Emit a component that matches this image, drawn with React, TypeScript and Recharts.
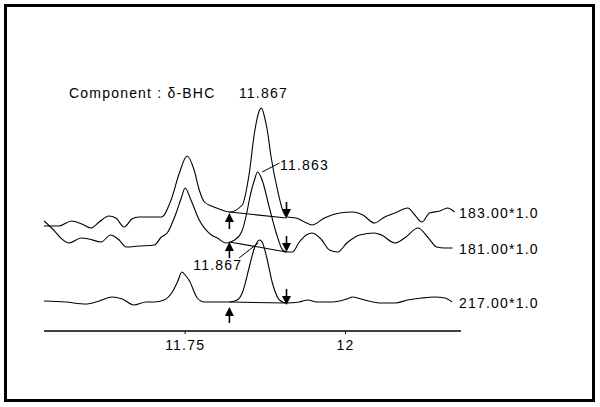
import { LineChart, Line, XAxis, YAxis, ReferenceLine, ReferenceDot } from "recharts";

// retention time (min) / abundance pairs
const trace183: [number, number][] = [
  [11.53, 105], [11.553, 105], [11.573, 110], [11.589, 107], [11.603, 103],
  [11.616, 109], [11.631, 115], [11.642, 113], [11.655, 104], [11.667, 112],
  [11.678, 114], [11.694, 114], [11.713, 114], [11.728, 131], [11.741, 158],
  [11.753, 175], [11.764, 161], [11.772, 141], [11.78, 129], [11.791, 125],
  [11.803, 122], [11.819, 119], [11.839, 126], [11.85, 158], [11.858, 198],
  [11.866, 221], [11.869, 223], [11.873, 216], [11.878, 201], [11.884, 174],
  [11.894, 141], [11.902, 121], [11.909, 114], [11.923, 113], [11.936, 109],
  [11.948, 106], [11.967, 113], [11.991, 118], [12.011, 119], [12.027, 116],
  [12.045, 108], [12.061, 114], [12.077, 118], [12.097, 123], [12.108, 116],
  [12.119, 109], [12.131, 118], [12.147, 120], [12.159, 123], [12.17, 119],
];

const trace181: [number, number][] = [
  [11.53, 110], [11.545, 101], [11.556, 93], [11.569, 88], [11.588, 93],
  [11.6, 92], [11.619, 89], [11.634, 96], [11.647, 91], [11.658, 84],
  [11.678, 85], [11.702, 86], [11.713, 94], [11.722, 98], [11.736, 118],
  [11.744, 133], [11.75, 143], [11.759, 131], [11.772, 111], [11.791, 96],
  [11.8, 93], [11.814, 88], [11.827, 91], [11.838, 99], [11.847, 121],
  [11.85, 131], [11.858, 151], [11.863, 159], [11.87, 151], [11.881, 124],
  [11.892, 98], [11.902, 81], [11.908, 79], [11.917, 79], [11.928, 89],
  [11.939, 96], [11.948, 98], [11.963, 91], [11.975, 81], [11.988, 79],
  [12.002, 88], [12.022, 96], [12.045, 98], [12.056, 96], [12.077, 88],
  [12.092, 93], [12.113, 103], [12.128, 94], [12.142, 84], [12.155, 83],
  [12.167, 83],
];

const trace217: [number, number][] = [
  [11.53, 30], [11.564, 29], [11.595, 27], [11.616, 30], [11.636, 34],
  [11.652, 32], [11.67, 26], [11.689, 29], [11.702, 29], [11.717, 31],
  [11.73, 39], [11.738, 49], [11.745, 59], [11.75, 56], [11.756, 51],
  [11.769, 33], [11.78, 29], [11.819, 29], [11.831, 31], [11.839, 38],
  [11.85, 64], [11.858, 83], [11.866, 91], [11.87, 89], [11.877, 74],
  [11.886, 48], [11.897, 31], [11.908, 28], [11.928, 29], [11.941, 31],
  [11.955, 29], [11.98, 29], [12.002, 32], [12.011, 34], [12.03, 31],
  [12.056, 28], [12.077, 28], [12.097, 31], [12.119, 33], [12.139, 34],
  [12.155, 33], [12.166, 29],
];

const traceNames = ["183.00*1.0", "181.00*1.0", "217.00*1.0"];
const nameLevels = [118, 82, 28];

// integration start / end markers: [rt, abundance at arrow tip]
const startMarks: [number, number][] = [[11.819, 118], [11.819, 89], [11.819, 24]];
const endMarks: [number, number][] = [[11.908, 113], [11.908, 79], [11.908, 26]];
const baselineStart = [119, 89, 29];
const baselineEnd = [113, 79, 28];

const xTicks = [11.75, 12];

const FONT = "Arial, 'Liberation Sans', sans-serif";

const toRows = (t: [number, number][]) => t.map(([rt, v]) => ({ rt, v }));

const textShape =
  (value: string, anchor: "start" | "middle" | "end") =>
  (p: any) =>
    (
      <text
        x={p.cx}
        y={p.cy}
        textAnchor={anchor}
        dominantBaseline="central"
        fontFamily={FONT}
        fontSize={14}
        style={{ letterSpacing: "1.2px" }}
        fill="#000"
      >
        {value}
      </text>
    );

const arrowShape = (up: boolean) => (p: any) => {
  const x = p.cx;
  const y = p.cy;
  const s = up ? 1 : -1;
  return (
    <g>
      <line x1={x} y1={y + s * 4} x2={x} y2={y + s * 16} stroke="#000" strokeWidth={1.6} />
      <polygon points={`${x},${y} ${x - 4.5},${y + s * 9} ${x + 4.5},${y + s * 9}`} fill="#000" />
    </g>
  );
};

export default function App() {
  const traces = [trace183, trace181, trace217];
  return (
    <div style={{ position: "absolute", left: 0, top: 0, width: 600, height: 407, background: "#fff" }}>
      <div
        style={{
          position: "absolute",
          left: 4,
          top: 4,
          width: 591,
          height: 398,
          border: "3px solid #000",
          boxSizing: "border-box",
        }}
      />
      <div style={{ position: "absolute", left: 0, top: 0 }}>
        <LineChart width={600} height={407} margin={{ top: 55, right: 139, bottom: 46, left: 44 }}>
          <XAxis
            dataKey="rt"
            type="number"
            domain={[11.53, 12.18]}
            ticks={xTicks}
            allowDataOverflow
            axisLine={{ stroke: "#000", strokeWidth: 1.5 }}
            tickLine={{ stroke: "#000" }}
            tickSize={3}
            tickMargin={6}
            tick={{ fill: "#000", fontSize: 14, fontFamily: FONT, style: { letterSpacing: "1.2px" } }}
          />
          <YAxis
            type="number"
            domain={[0, 276]}
            allowDataOverflow
            width={0}
            tick={false}
            tickLine={false}
            axisLine={{ stroke: "#000", strokeWidth: 1.5 }}
          />
          {traces.map((t, i) => (
            <Line
              key={traceNames[i]}
              data={toRows(t)}
              dataKey="v"
              type="monotone"
              stroke="#000"
              strokeWidth={1.1}
              dot={false}
              isAnimationActive={false}
            />
          ))}
          {startMarks.map(([rt], i) => (
            <ReferenceLine
              key={`bl-${i}`}
              segment={[
                { x: rt, y: baselineStart[i] },
                { x: endMarks[i][0], y: baselineEnd[i] },
              ]}
              stroke="#000"
              strokeWidth={1.1}
              ifOverflow="visible"
            />
          ))}
          {startMarks.map(([rt, v], i) => (
            <ReferenceDot key={`su-${i}`} x={rt} y={v} r={0} ifOverflow="visible" shape={arrowShape(true)} />
          ))}
          {endMarks.map(([rt, v], i) => (
            <ReferenceDot key={`ed-${i}`} x={rt} y={v} r={0} ifOverflow="visible" shape={arrowShape(false)} />
          ))}
          <ReferenceLine
            segment={[{ x: 11.87, y: 159 }, { x: 11.897, y: 168 }]}
            stroke="#000"
            strokeWidth={1}
            ifOverflow="visible"
          />
          <ReferenceLine
            segment={[{ x: 11.834, y: 73 }, { x: 11.864, y: 88 }]}
            stroke="#000"
            strokeWidth={1}
            ifOverflow="visible"
          />
          <ReferenceDot x={11.569} y={238} r={0} ifOverflow="visible" shape={textShape("Component : δ-BHC", "start")} />
          <ReferenceDot x={11.872} y={238} r={0} ifOverflow="visible" shape={textShape("11.867", "middle")} />
          <ReferenceDot x={11.898} y={166} r={0} ifOverflow="visible" shape={textShape("11.863", "start")} />
          <ReferenceDot x={11.839} y={66} r={0} ifOverflow="visible" shape={textShape("11.867", "end")} />
          {traceNames.map((n, i) => (
            <ReferenceDot
              key={n}
              x={12.177}
              y={nameLevels[i]}
              r={0}
              ifOverflow="visible"
              shape={textShape(n, "start")}
            />
          ))}
        </LineChart>
      </div>
    </div>
  );
}
